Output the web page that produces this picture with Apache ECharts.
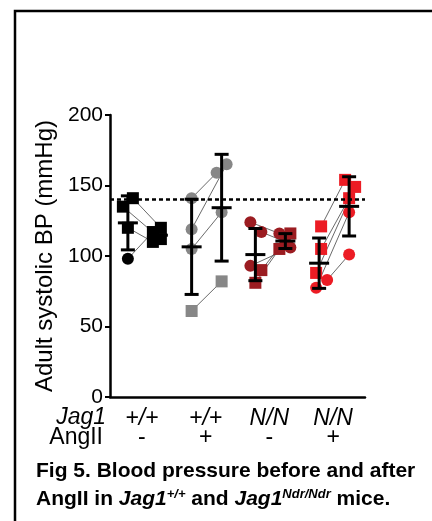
<!DOCTYPE html>
<html>
<head>
<meta charset="utf-8">
<script src="https://cdn.jsdelivr.net/npm/echarts@6/dist/echarts.min.js"></script>
<style>
    html, body { margin: 0; padding: 0; background: #fff; }
    #chart { width: 432px; height: 521px; }
</style>
</head>
<body>
<div id="chart"></div>
<script>
    var genotypes = ['+/+', '+/+', 'N/N', 'N/N'];
    var angII = ['-', '+', '-', '+'];
    var groupColors = ['#000000', '#878787', '#9b1c21', '#ec1c24'];

    // paired values, left column -> right column of every group
    var leftValues = [
        [141, 135, 120, 98],
        [141, 119, 105, 61],
        [124, 117, 93, 90, 81],
        [121, 105, 88, 83, 77.5]
    ];
    var rightValues = [
        [120, 112, 110, 117],
        [159, 165, 131, 82],
        [116, 110, 106, 116, 105],
        [154, 141, 149, 101, 131]
    ];
    var leftMarkers = [
        ['rect', 'rect', 'rect', 'circle'],
        ['circle', 'circle', 'circle', 'rect'],
        ['circle', 'circle', 'circle', 'rect', 'rect'],
        ['rect', 'rect', 'rect', 'circle', 'circle']
    ];
    var rightMarkers = [
        ['rect', 'rect', 'rect', 'rect'],
        ['circle', 'circle', 'circle', 'rect'],
        ['circle', 'circle', 'circle', 'rect', 'rect'],
        ['rect', 'rect', 'rect', 'circle', 'circle']
    ];
    var dashedLevel = 140;

    // horizontal spread of the dots inside a column, in px
    var leftSpread = [[5, -5, 0, 0], [0, 0, 0, 0], [-5, 6, -5, 6, 0], [2, 2, -3, 8, -3]];
    var rightSpread = [[3, 3, -5, -5], [-5, 5, 0, 0], [-6, 0, 5, 5, -6], [-4, 0, 6, 0, 0]];

    var BAND = 255 / 4;
    var LEFT_OFF = -14 / BAND;
    var RIGHT_OFF = 16 / BAND;
    var FONT = '"Liberation Sans", Arial, sans-serif';

    function meanSd(arr) {
        var sum = 0, i;
        for (i = 0; i < arr.length; i++) { sum += arr[i]; }
        var mean = sum / arr.length;
        var sq = 0;
        for (i = 0; i < arr.length; i++) { sq += (arr[i] - mean) * (arr[i] - mean); }
        return [mean, Math.sqrt(sq / (arr.length - 1))];
    }

    var series = [];
    var connectors = [];
    var bars = [];

    for (var g = 0; g < leftValues.length; g++) {
        var pts = [];
        var xl = g + LEFT_OFF, xr = g + RIGHT_OFF;
        for (var i = 0; i < leftValues[g].length; i++) {
            var x1 = xl + leftSpread[g][i] / BAND;
            var x2 = xr + rightSpread[g][i] / BAND;
            pts.push({value: [x1, leftValues[g][i]], symbol: leftMarkers[g][i]});
            pts.push({value: [x2, rightValues[g][i]], symbol: rightMarkers[g][i]});
            connectors.push([x1, leftValues[g][i], x2, rightValues[g][i]]);
        }
        var sl = meanSd(leftValues[g]), sr = meanSd(rightValues[g]);
        bars.push([xl, sl[0], sl[1]]);
        bars.push([xr, sr[0], sr[1]]);
        series.push({
            type: 'scatter',
            xAxisIndex: 1,
            symbolSize: 12,
            z: 3,
            itemStyle: {color: groupColors[g], opacity: 1},
            data: pts
        });
    }

    series.unshift({
        type: 'custom',
        xAxisIndex: 1,
        z: 2,
        silent: true,
        data: connectors,
        renderItem: function (params, api) {
            var a = api.coord([api.value(0), api.value(1)]);
            var b = api.coord([api.value(2), api.value(3)]);
            return {
                type: 'line',
                shape: {x1: a[0], y1: a[1], x2: b[0], y2: b[1]},
                style: {stroke: '#444', lineWidth: 0.8}
            };
        },
        markLine: {
            silent: true,
            symbol: 'none',
            label: {show: false},
            lineStyle: {color: '#000', type: [4, 3], width: 2.5},
            data: [{yAxis: dashedLevel}]
        }
    });

    series.push({
        type: 'custom',
        xAxisIndex: 1,
        z: 5,
        silent: true,
        data: bars,
        renderItem: function (params, api) {
            var x = api.value(0), m = api.value(1), sd = api.value(2);
            var top = api.coord([x, m + sd]);
            var mid = api.coord([x, m]);
            var bot = api.coord([x, m - sd]);
            var st = {stroke: '#000', lineWidth: 3};
            return {
                type: 'group',
                children: [
                    {type: 'line', shape: {x1: top[0], y1: top[1], x2: bot[0], y2: bot[1]}, style: st},
                    {type: 'line', shape: {x1: top[0] - 7, y1: top[1], x2: top[0] + 7, y2: top[1]}, style: st},
                    {type: 'line', shape: {x1: bot[0] - 7, y1: bot[1], x2: bot[0] + 7, y2: bot[1]}, style: st},
                    {type: 'line', shape: {x1: mid[0] - 10, y1: mid[1], x2: mid[0] + 10, y2: mid[1]}, style: st}
                ]
            };
        }
    });

    var myChart = echarts.init(document.getElementById('chart'));
    myChart.setOption({
        animation: false,
        textStyle: {fontFamily: FONT},
        grid: {left: 110, top: 115, width: 255, height: 282},
        xAxis: [{
            type: 'category',
            data: ['0', '1', '2', '3'],
            boundaryGap: true,
            axisLine: {lineStyle: {color: '#000', width: 2.5}},
            axisTick: {alignWithLabel: true, length: 5, lineStyle: {color: '#000', width: 2}},
            axisLabel: {
                margin: 12,
                formatter: function (v, idx) {
                    return '{g|' + genotypes[idx] + '}\n{a|' + angII[idx] + '}';
                },
                rich: {
                    g: {fontSize: 23, fontStyle: 'italic', color: '#000', lineHeight: 19, fontFamily: FONT},
                    a: {fontSize: 23, color: '#000', lineHeight: 19, fontFamily: FONT}
                }
            }
        }, {
            type: 'value',
            min: -0.5,
            max: 3.5,
            show: false
        }],
        yAxis: {
            type: 'value',
            min: 0,
            max: 200,
            interval: 50,
            name: 'Adult systolic BP (mmHg)',
            nameLocation: 'middle',
            nameGap: 48,
            nameTextStyle: {fontSize: 24, color: '#000', fontFamily: FONT},
            axisLine: {show: true, onZero: false, lineStyle: {color: '#000', width: 2.5}},
            axisTick: {show: true, length: 5, lineStyle: {color: '#000', width: 2}},
            splitLine: {show: false},
            axisLabel: {fontSize: 21, color: '#000', margin: 7, fontFamily: FONT}
        },
        graphic: [
            {
                type: 'polyline',
                shape: {points: [[15, 521], [15, 11], [432, 11]]},
                style: {stroke: '#000', lineWidth: 2.5, fill: null}
            },
            {
                type: 'text', x: 106, y: 418,
                style: {text: 'Jag1', font: 'italic 23px ' + FONT, fill: '#000', align: 'right', verticalAlign: 'middle'}
            },
            {
                type: 'text', x: 103, y: 438,
                style: {text: 'AngII', font: '23px ' + FONT, fill: '#000', align: 'right', verticalAlign: 'middle'}
            },
            {
                type: 'text', x: 36, y: 471,
                style: {
                    text: 'Fig 5. Blood pressure before and after',
                    font: 'bold 21px ' + FONT, fill: '#000', verticalAlign: 'middle'
                }
            },
            {
                type: 'text', x: 36, y: 499,
                style: {
                    text: '{n|AngII in }{i|Jag1}{s|+/+}{n| and }{i|Jag1}{s|Ndr/Ndr}{n| mice.}',
                    verticalAlign: 'middle',
                    rich: {
                        n: {font: 'bold 21px ' + FONT, fill: '#000', lineHeight: 24},
                        i: {font: 'italic bold 21px ' + FONT, fill: '#000', lineHeight: 24},
                        s: {font: 'italic bold 13px ' + FONT, fill: '#000', lineHeight: 24, padding: [0, 0, 10, 0]}
                    }
                }
            }
        ],
        series: series
    });
</script>
</body>
</html>
